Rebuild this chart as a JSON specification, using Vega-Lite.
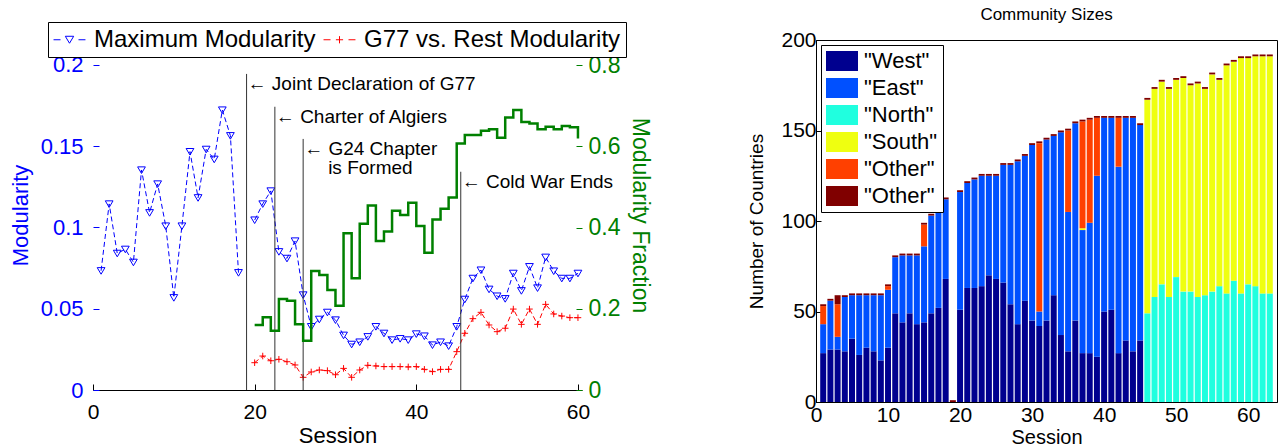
{
  "$schema": "https://vega.github.io/schema/vega-lite/v6.json",
  "padding": {"left": 9, "top": 5, "right": 0, "bottom": 0},
  "background": "white",
  "spacing": 96,
  "resolve": {"scale": {"color": "independent"}, "legend": {"color": "independent"}},
  "config": {"font": "Liberation Sans", "axis": {"grid": false, "labelFlush": false}, "view": {"stroke": null}},
  "datasets": {
    "mod": [
      {"session": 1, "max": 0.0734}, {"session": 2, "max": 0.1145}, {"session": 3, "max": 0.0841},
      {"session": 4, "max": 0.0866}, {"session": 5, "max": 0.0786}, {"session": 6, "max": 0.1354},
      {"session": 7, "max": 0.1091}, {"session": 8, "max": 0.1268}, {"session": 9, "max": 0.1009},
      {"session": 10, "max": 0.0568}, {"session": 11, "max": 0.1009}, {"session": 12, "max": 0.1467},
      {"session": 13, "max": 0.1183}, {"session": 14, "max": 0.1481}, {"session": 15, "max": 0.1420},
      {"session": 16, "max": 0.1723}, {"session": 17, "max": 0.1565}, {"session": 18, "max": 0.0722},
      {"session": 20, "max": 0.1046, "g77": 0.0168, "frac": 0.160},
      {"session": 21, "max": 0.1145, "g77": 0.0209, "frac": 0.179},
      {"session": 22, "max": 0.1225, "g77": 0.0180, "frac": 0.146},
      {"session": 23, "max": 0.0851, "g77": 0.0189, "frac": 0.224},
      {"session": 24, "max": 0.0810, "g77": 0.0174, "frac": 0.220},
      {"session": 25, "max": 0.0917, "g77": 0.0154, "frac": 0.162},
      {"session": 26, "max": 0.0585, "g77": 0.0078, "frac": 0.121},
      {"session": 27, "max": 0.0390, "g77": 0.0111, "frac": 0.293},
      {"session": 28, "max": 0.0435, "g77": 0.0123, "frac": 0.283},
      {"session": 29, "max": 0.0478, "g77": 0.0119, "frac": 0.246},
      {"session": 30, "max": 0.0431, "g77": 0.0094, "frac": 0.2075},
      {"session": 31, "max": 0.0337, "g77": 0.0133, "frac": 0.386},
      {"session": 32, "max": 0.0281, "g77": 0.0078, "frac": 0.275},
      {"session": 33, "max": 0.0295, "g77": 0.0123, "frac": 0.409},
      {"session": 34, "max": 0.0328, "g77": 0.0152, "frac": 0.454},
      {"session": 35, "max": 0.0390, "g77": 0.0148, "frac": 0.367},
      {"session": 36, "max": 0.0349, "g77": 0.0144, "frac": 0.390},
      {"session": 37, "max": 0.0308, "g77": 0.0144, "frac": 0.441},
      {"session": 38, "max": 0.0316, "g77": 0.0144, "frac": 0.431},
      {"session": 39, "max": 0.0308, "g77": 0.0142, "frac": 0.461},
      {"session": 40, "max": 0.0345, "g77": 0.0144, "frac": 0.404},
      {"session": 41, "max": 0.0332, "g77": 0.0127, "frac": 0.338},
      {"session": 42, "max": 0.0277, "g77": 0.0113, "frac": 0.420},
      {"session": 43, "max": 0.0295, "g77": 0.0127, "frac": 0.446},
      {"session": 44, "max": 0.0271, "g77": 0.0127, "frac": 0.474},
      {"session": 45, "max": 0.0390, "g77": 0.0236, "frac": 0.607},
      {"session": 46, "max": 0.0558, "g77": 0.0349, "frac": 0.628},
      {"session": 47, "max": 0.0687, "g77": 0.0439, "frac": 0.628},
      {"session": 48, "max": 0.0738, "g77": 0.0478, "frac": 0.638},
      {"session": 49, "max": 0.0620, "g77": 0.0400, "frac": 0.642},
      {"session": 50, "max": 0.0578, "g77": 0.0359, "frac": 0.621},
      {"session": 51, "max": 0.0562, "g77": 0.0380, "frac": 0.671},
      {"session": 52, "max": 0.0718, "g77": 0.0498, "frac": 0.689},
      {"session": 53, "max": 0.0611, "g77": 0.0404, "frac": 0.660},
      {"session": 54, "max": 0.0759, "g77": 0.0498, "frac": 0.656},
      {"session": 55, "max": 0.0628, "g77": 0.0404, "frac": 0.642},
      {"session": 56, "max": 0.0817, "g77": 0.0527, "frac": 0.648},
      {"session": 57, "max": 0.0732, "g77": 0.0468, "frac": 0.642},
      {"session": 58, "max": 0.0687, "g77": 0.0455, "frac": 0.650},
      {"session": 59, "max": 0.0687, "g77": 0.0445, "frac": 0.647},
      {"session": 60, "max": 0.0718, "g77": 0.0445, "frac": 0.619}
    ],
    "events": [
      {"session": 19, "top": 0.1945},
      {"session": 22.5, "top": 0.1743},
      {"session": 26, "top": 0.1545},
      {"session": 45.5, "top": 0.1343}
    ],
    "notes": [
      {"session": 19, "y": 0.1883, "label": "← Joint Declaration of G77"},
      {"session": 22.5, "y": 0.1682, "label": "← Charter of Algiers"},
      {"session": 26, "y": 0.1483, "label": "← G24 Chapter"},
      {"session": 45.5, "y": 0.1282, "label": "← Cold War Ends"}
    ],
    "notes2": [
      {"session": 26, "y": 0.1366, "label": "is Formed"}
    ],
    "sizes": [
      {"session": 1, "West": 27, "East": 16, "Other1": 10, "Other2": 1},
      {"session": 2, "West": 29, "East": 27, "Other2": 1},
      {"session": 3, "West": 29, "East": 7, "Other1": 18, "Other2": 5},
      {"session": 4, "West": 28, "East": 30, "Other2": 1},
      {"session": 5, "West": 35, "East": 24, "Other2": 1},
      {"session": 6, "West": 26, "East": 33, "Other2": 1},
      {"session": 7, "West": 30, "East": 29, "Other2": 1},
      {"session": 8, "West": 28, "East": 31, "Other2": 1},
      {"session": 9, "West": 23, "East": 36, "Other2": 1},
      {"session": 10, "West": 30, "East": 32, "Other1": 2, "Other2": 1},
      {"session": 11, "West": 49, "East": 31, "Other2": 1},
      {"session": 12, "West": 44, "East": 37, "Other2": 1},
      {"session": 13, "West": 49, "East": 32, "Other2": 1},
      {"session": 14, "West": 43, "East": 38, "Other2": 1},
      {"session": 15, "West": 44, "East": 42, "Other1": 12, "Other2": 1},
      {"session": 16, "West": 49, "East": 54, "Other2": 1},
      {"session": 17, "West": 52, "East": 57, "Other2": 1},
      {"session": 18, "West": 68, "East": 44, "Other2": 1},
      {"session": 19, "Other2": 1},
      {"session": 20, "West": 51, "East": 65, "Other2": 1},
      {"session": 21, "West": 63, "East": 58, "Other2": 1},
      {"session": 22, "West": 63, "East": 60, "Other2": 1},
      {"session": 23, "West": 64, "East": 61, "Other2": 1},
      {"session": 24, "West": 70, "East": 55, "Other2": 1},
      {"session": 25, "West": 68, "East": 57, "Other2": 1},
      {"session": 26, "West": 66, "East": 65, "Other2": 1},
      {"session": 27, "West": 54, "East": 77, "Other2": 1},
      {"session": 28, "West": 43, "East": 90, "Other2": 1},
      {"session": 29, "West": 56, "East": 80, "Other2": 1},
      {"session": 30, "West": 45, "East": 97, "Other2": 1},
      {"session": 31, "West": 42, "East": 8, "Other1": 93, "Other2": 1},
      {"session": 32, "West": 45, "East": 100, "Other2": 1},
      {"session": 33, "West": 59, "East": 88, "Other2": 1},
      {"session": 34, "West": 37, "East": 112, "Other2": 1},
      {"session": 35, "West": 28, "East": 77, "Other1": 45, "Other2": 1},
      {"session": 36, "West": 45, "East": 109, "Other2": 1},
      {"session": 37, "West": 27, "East": 68, "South": 1, "Other1": 59, "Other2": 1},
      {"session": 38, "West": 27, "East": 72, "Other1": 57, "Other2": 1},
      {"session": 39, "West": 25, "East": 100, "Other1": 32, "Other2": 1},
      {"session": 40, "West": 50, "East": 107, "Other2": 1},
      {"session": 41, "West": 51, "East": 106, "Other2": 1},
      {"session": 42, "West": 27, "East": 103, "Other1": 27, "Other2": 1},
      {"session": 43, "West": 34, "East": 123, "Other2": 1},
      {"session": 44, "West": 28, "East": 129, "Other2": 1},
      {"session": 45, "West": 34, "East": 119, "Other2": 1},
      {"session": 46, "North": 49, "South": 118, "Other2": 1},
      {"session": 47, "North": 58, "South": 115, "Other2": 1},
      {"session": 48, "North": 65, "South": 112, "Other2": 1},
      {"session": 49, "North": 58, "South": 115, "Other2": 1},
      {"session": 50, "North": 69, "South": 109, "Other2": 1},
      {"session": 51, "North": 61, "South": 118, "Other2": 1},
      {"session": 52, "North": 61, "South": 114, "Other2": 1},
      {"session": 53, "North": 58, "South": 118, "Other2": 1},
      {"session": 54, "North": 59, "South": 114, "Other2": 1},
      {"session": 55, "North": 61, "South": 120, "Other2": 1},
      {"session": 56, "North": 64, "South": 114, "Other2": 1},
      {"session": 57, "North": 60, "South": 126, "Other2": 1},
      {"session": 58, "North": 67, "South": 121, "Other2": 1},
      {"session": 59, "North": 60, "South": 130, "Other2": 1},
      {"session": 60, "North": 65, "South": 125, "Other2": 1},
      {"session": 61, "North": 64, "South": 127, "Other2": 1},
      {"session": 62, "North": 60, "South": 131, "Other2": 1},
      {"session": 63, "North": 60, "South": 131, "Other2": 1}
    ]
  },
  "hconcat": [
    {
      "width": 489,
      "height": 350,
      "view": {"stroke": null},
      "resolve": {"scale": {"y": "independent"}},
      "layer": [
        {
          "layer": [
            {
              "data": {"name": "mod"},
              "transform": [
                {"fold": ["max", "g77"], "as": ["series", "value"]},
                {"filter": "isValid(datum.value)"},
                {"calculate": "datum.session < 19 ? 'a' : 'b'", "as": "period"}
              ],
              "mark": {"type": "line", "strokeWidth": 1, "strokeDash": [5, 3]},
              "encoding": {
                "x": {"field": "session", "type": "quantitative", "scale": {"domain": [0, 60.5], "nice": false, "zero": false},
                  "axis": {"values": [0, 20, 40, 60], "title": "Session", "labelFontSize": 21, "titleFontSize": 22, "titleFontWeight": "normal", "tickSize": -6, "labelPadding": 17, "titlePadding": 3, "domainColor": "#000000", "tickColor": "#000000", "labelColor": "#000000", "titleColor": "#000000"}},
                "y": {"field": "value", "type": "quantitative", "scale": {"domain": [0, 0.21538], "nice": false},
                  "axis": {"orient": "left", "values": [0, 0.05, 0.1, 0.15, 0.2], "format": "~g", "title": "Modularity", "domain": false, "labelFontSize": 22, "titleFontSize": 22, "titleFontWeight": "normal", "tickSize": -6, "labelPadding": 16, "titlePadding": 8, "labelColor": "#0000ff", "titleColor": "#0000ff", "tickColor": "#0000ff"}},
                "color": {"field": "series", "type": "nominal", "scale": {"domain": ["max", "g77"], "range": ["#0000ff", "#ff0000"]},
                  "legend": {"orient": "none", "legendX": -45, "legendY": -18, "direction": "horizontal", "title": null, "strokeColor": "#000000", "fillColor": "white", "padding": 5, "labelFontSize": 24, "symbolSize": 576, "symbolOffset": 4, "symbolStrokeWidth": 1, "labelOffset": 12, "columnPadding": 5, "labelLimit": 0,
                    "labelExpr": "datum.value == 'max' ? 'Maximum Modularity' : 'G77 vs. Rest Modularity'",
                    "encode": {"symbols": {"update": {"shape": {"signal": "datum.value == 'max' ? 'M-1.33,0H-0.75M0.75,0H1.33M-0.35,-0.29H0.35L0,0.29Z' : 'M-1.33,0H-0.75M0.75,0H1.33M-0.3,0H0.3M0,-0.3V0.3'"}, "fill": {"value": "transparent"}, "strokeDash": {"value": []}, "strokeWidth": {"value": 1}}}}}},
                "detail": {"field": "period"}
              }
            },
            {
              "data": {"name": "mod"},
              "transform": [
                {"fold": ["max", "g77"], "as": ["series", "value"]},
                {"filter": "isValid(datum.value)"}
              ],
              "mark": {"type": "point", "filled": false, "strokeWidth": 1, "opacity": 1, "size": 60},
              "encoding": {
                "x": {"field": "session", "type": "quantitative", "scale": {"domain": [0, 60.5], "nice": false, "zero": false}},
                "y": {"field": "value", "type": "quantitative", "scale": {"domain": [0, 0.21538], "nice": false}},
                "color": {"field": "series", "type": "nominal", "scale": {"domain": ["max", "g77"], "range": ["#0000ff", "#ff0000"]}, "legend": null},
                "shape": {"field": "series", "type": "nominal", "scale": {"domain": ["max", "g77"], "range": ["M-1,-0.8H1L0,0.9Z", "M-0.85,0H0.85M0,-0.85V0.85"]}, "legend": null}
              }
            },
            {
              "mark": {"type": "rule", "color": "#0000ff", "strokeWidth": 1},
              "encoding": {
                "x": {"datum": 0, "type": "quantitative", "scale": {"domain": [0, 60.5], "nice": false, "zero": false}},
                "y": {"datum": 0, "type": "quantitative", "scale": {"domain": [0, 0.21538], "nice": false}},
                "y2": {"datum": 0.2}
              }
            },
            {
              "data": {"name": "events"},
              "mark": {"type": "rule", "color": "#333333", "strokeWidth": 1},
              "encoding": {
                "x": {"field": "session", "type": "quantitative", "scale": {"domain": [0, 60.5], "nice": false, "zero": false}},
                "y": {"field": "top", "type": "quantitative", "scale": {"domain": [0, 0.21538], "nice": false}},
                "y2": {"datum": 0}
              }
            },
            {
              "data": {"name": "notes"},
              "mark": {"type": "text", "align": "left", "baseline": "middle", "fontSize": 19, "dx": 1, "color": "#000000"},
              "encoding": {
                "x": {"field": "session", "type": "quantitative", "scale": {"domain": [0, 60.5], "nice": false, "zero": false}},
                "y": {"field": "y", "type": "quantitative", "scale": {"domain": [0, 0.21538], "nice": false}},
                "text": {"field": "label", "type": "nominal"}
              }
            },
            {
              "data": {"name": "notes2"},
              "mark": {"type": "text", "align": "left", "baseline": "middle", "fontSize": 19, "dx": 25, "color": "#000000"},
              "encoding": {
                "x": {"field": "session", "type": "quantitative", "scale": {"domain": [0, 60.5], "nice": false, "zero": false}},
                "y": {"field": "y", "type": "quantitative", "scale": {"domain": [0, 0.21538], "nice": false}},
                "text": {"field": "label", "type": "nominal"}
              }
            }
          ]
        },
        {
          "layer": [
            {
              "data": {"name": "mod"},
              "transform": [{"filter": "isValid(datum.frac)"}],
              "mark": {"type": "line", "interpolate": "step-after", "color": "#008000", "strokeWidth": 2.5},
              "encoding": {
                "x": {"field": "session", "type": "quantitative", "scale": {"domain": [0, 60.5], "nice": false, "zero": false}},
                "y": {"field": "frac", "type": "quantitative", "scale": {"domain": [0, 0.86154], "nice": false},
                  "axis": {"orient": "right", "values": [0, 0.2, 0.4, 0.6, 0.8], "format": "~g", "title": "Modularity Fraction", "domain": false, "labelFontSize": 23, "titleFontSize": 23, "titleFontWeight": "normal", "tickSize": -6, "labelPadding": 12, "titlePadding": 8, "labelColor": "#008000", "titleColor": "#008000", "tickColor": "#008000"}}
              }
            },
            {
              "mark": {"type": "rule", "color": "#008000", "strokeWidth": 1},
              "encoding": {
                "x": {"datum": 60.5, "type": "quantitative", "scale": {"domain": [0, 60.5], "nice": false, "zero": false}},
                "y": {"datum": 0, "type": "quantitative", "scale": {"domain": [0, 0.86154], "nice": false}},
                "y2": {"datum": 0.8}
              }
            }
          ]
        }
      ]
    },
    {
      "width": 461,
      "height": 362,
      "view": {"stroke": "#000000"},
      "title": {"text": "Community Sizes", "fontSize": 17, "fontWeight": "normal", "color": "#000000", "offset": 5},
      "data": {"name": "sizes"},
      "transform": [
        {"fold": ["West", "East", "North", "South", "Other1", "Other2"], "as": ["community", "count"]},
        {"filter": "isValid(datum.count) && datum.count > 0"},
        {"calculate": "indexof(['West', 'East', 'North', 'South', 'Other1', 'Other2'], datum.community)", "as": "ord"}
      ],
      "mark": {"type": "bar", "size": 6},
      "encoding": {
        "x": {"field": "session", "type": "quantitative", "scale": {"domain": [0, 64], "nice": false, "zero": false, "padding": 0},
          "axis": {"values": [0, 10, 20, 30, 40, 50, 60], "title": "Session", "labelFontSize": 21, "titleFontSize": 20, "titleFontWeight": "normal", "tickSize": -5, "labelPadding": 7, "titlePadding": 2, "domainColor": "#000000", "tickColor": "#000000", "labelColor": "#000000", "titleColor": "#000000"}},
        "y": {"field": "count", "type": "quantitative", "stack": "zero", "scale": {"domain": [0, 200], "nice": false, "padding": 0},
          "axis": {"values": [0, 50, 100, 150, 200], "title": "Number of Countries", "labelFontSize": 21, "titleFontSize": 19, "titleFontWeight": "normal", "tickSize": -5, "labelPadding": 5, "titlePadding": 14, "domainColor": "#000000", "tickColor": "#000000", "labelColor": "#000000", "titleColor": "#000000"}},
        "color": {"field": "community", "type": "nominal",
          "scale": {"domain": ["West", "East", "North", "South", "Other1", "Other2"], "range": ["#00008f", "#0050ff", "#20ffdf", "#efff10", "#ff4000", "#800000"]},
          "legend": {"orient": "top-left", "offset": 5, "title": null, "strokeColor": "#000000", "fillColor": "white", "padding": 5, "labelFontSize": 22, "symbolType": "M-1.6,-1H1.6V1H-1.6Z", "symbolSize": 400, "symbolOffset": 5, "labelOffset": 11, "rowPadding": 5, "symbolStrokeWidth": 0, "labelLimit": 0,
            "labelExpr": "indexof(datum.value, 'Other') == 0 ? '\"Other\"' : '\"' + datum.value + '\"'"}},
        "order": {"field": "ord", "type": "quantitative"}
      }
    }
  ]
}
